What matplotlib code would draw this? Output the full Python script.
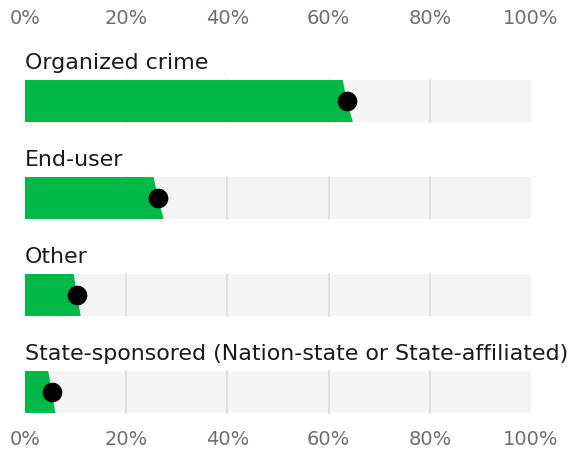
import matplotlib.pyplot as plt

# значения (проценты)
categories = ["Organized crime", "End-user", "Other",
              "State-sponsored (Nation-state or State-affiliated)"]
values = [63.6, 26.3, 10.3, 5.3]
low_edge = [62.8, 25.4, 9.6, 4.6]
high_edge = [64.8, 27.4, 11.0, 6.0]
ticks = [0, 20, 40, 60, 80, 100]
tick_labels = ["0%", "20%", "40%", "60%", "80%", "100%"]

green = "#00b847"
bg = "#f4f4f4"
grid = "#dddddd"

plt.rcParams['font.family'] = ['DejaVu Sans']

fig = plt.figure(figsize=(5.68, 4.49), dpi=100)
ax = fig.add_axes([25 / 568, 1 - 420 / 449, 506 / 568, 382 / 449])

h = 0.2165
for i, (cat, v, lo, hi) in enumerate(zip(categories, values, low_edge, high_edge)):
    ax.fill([0, 100, 100, 0], [i - h, i - h, i + h, i + h], color=bg, lw=0, zorder=1)
    for t in ticks[1:-1]:
        ax.plot([t, t], [i - h, i + h], color=grid, lw=1.2, zorder=2)
    ax.fill([0, lo, v, hi, 0], [i - h, i - h, i, i + h, i + h],
            color=green, lw=0, zorder=3)
    ax.scatter([v], [i], s=200, color="black", zorder=4, linewidths=0)
    ax.text(0, i - 0.33, cat, fontsize=15.9, color="#1a1a1a", va="baseline", ha="left")

ax.set_xlim(0, 100)
ax.set_ylim(3.289, -0.65)
ax.set_xticks(ticks)
ax.set_xticklabels(tick_labels)
ax.set_yticks([])
ax.tick_params(axis="x", length=0, top=False, bottom=False,
               labeltop=True, labelbottom=True, labelsize=14,
               labelcolor="#6e6e6e", pad=7)
for s in ax.spines.values():
    s.set_visible(False)

fig.savefig("out.png", dpi=100)
